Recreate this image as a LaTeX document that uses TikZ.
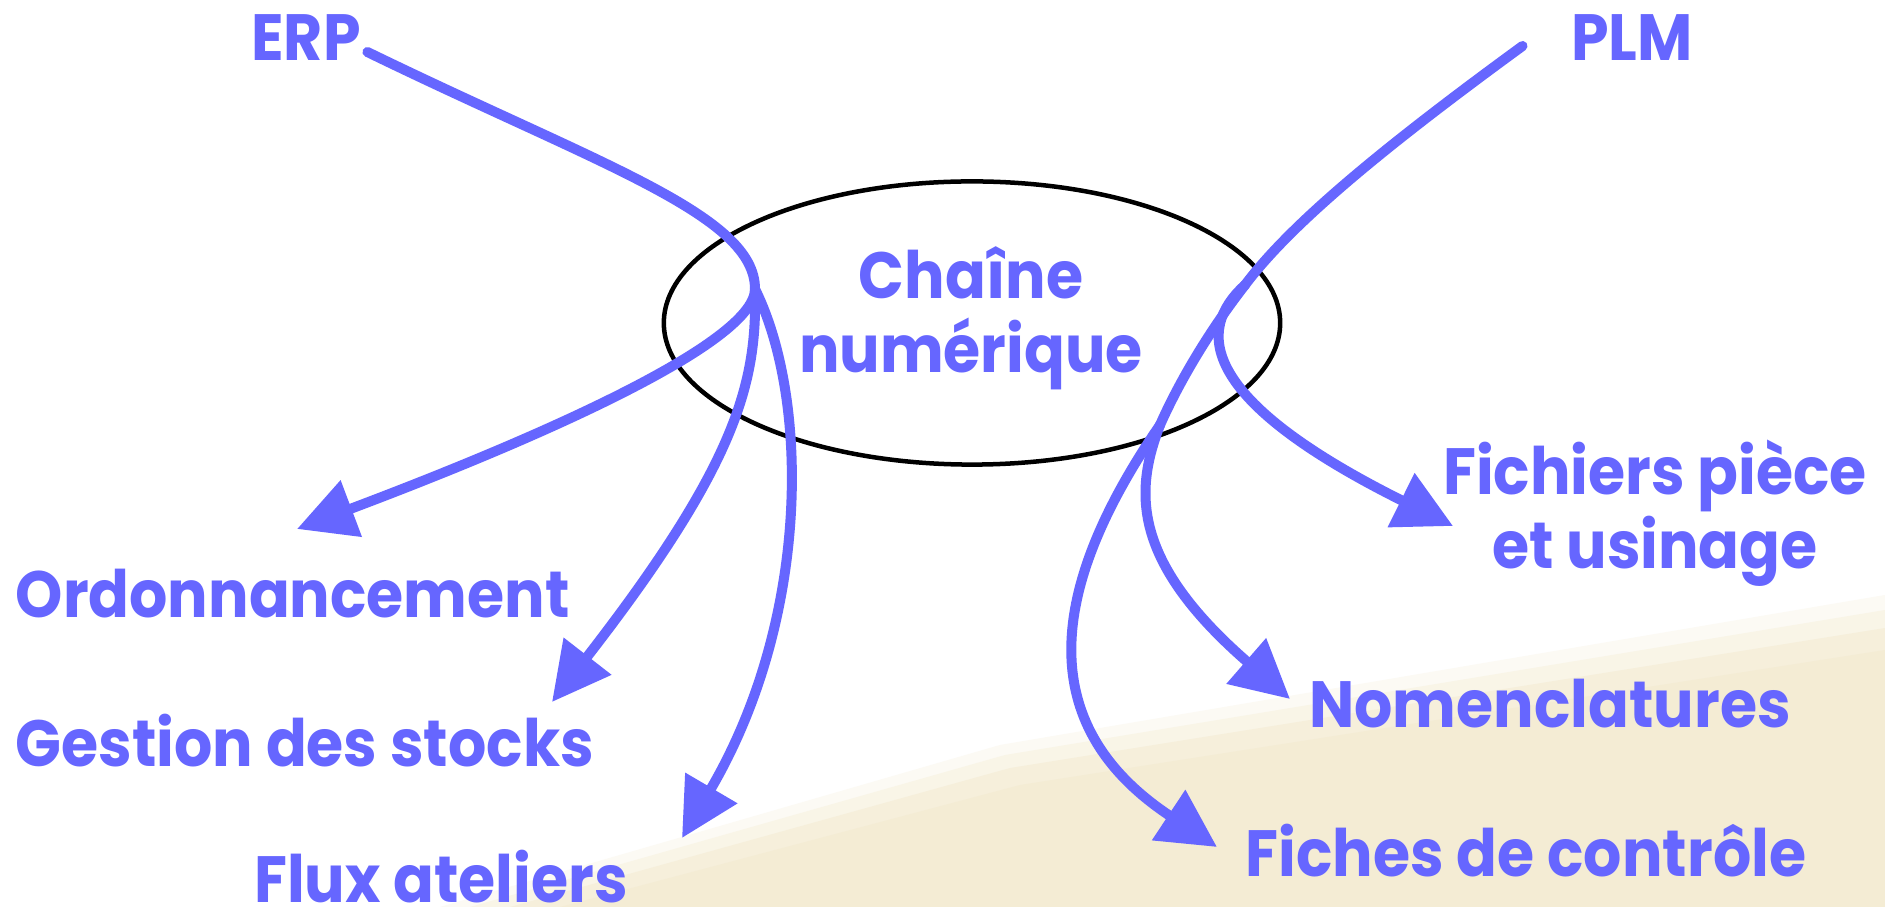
\documentclass[tikz,border=0pt]{standalone}
\usepackage{fontspec}
\newfontfamily\lblfont{Poppins}[FakeStretch=0.92]
\usetikzlibrary{shapes.geometric,arrows.meta,positioning}
\definecolor{flowblue}{RGB}{102,102,255}
\definecolor{bgbeige}{RGB}{244,236,212}
\tikzset{
  lbl/.style = {text=flowblue, font=\lblfont\bfseries\fontsize{18.6}{21.3}\selectfont, inner sep=0pt, anchor=base},
  flow/.style = {draw=flowblue, line width=0.1cm, line cap=round},
  flowarr/.style = {flow, -{Triangle[length=0.58cm,width=0.58cm]}},
  chainenode/.style = {ellipse, draw=black, line width=0.045cm, minimum width=6.16cm, minimum height=2.83cm, inner sep=0pt}
}
\begin{document}
\begin{tikzpicture}[x=0.01cm,y=-0.01cm]
	% fond
	\useasboundingbox (0,0) rectangle (1885,907);
	\fill[white] (0,0) rectangle (1885,907);
	\fill[bgbeige!25] (440,907) -- (1000,745) -- (1885,595) -- (1885,907) -- cycle;
	\fill[bgbeige!55] (470,907) -- (1005,755) -- (1885,610) -- (1885,907) -- cycle;
	\fill[bgbeige!85] (510,907) -- (1010,768) -- (1885,628) -- (1885,907) -- cycle;
	\fill[bgbeige] (560,907) -- (1020,785) -- (1885,650) -- (1885,907) -- cycle;
	% noeuds
	\node[chainenode] (chaine) at (972,323) {};
	\node[lbl, align=center] (chainetxt) at (971,373) {Chaîne\\numérique};
	\node[lbl] (erp) at (306,61) {ERP};
	\node[lbl] (plm) at (1632,61) {PLM};
	\node[lbl, anchor=base west] (ordo) at (15,618) {Ordonnancement};
	\node[lbl, anchor=base west] (stocks) at (15,766) {Gestion des stocks};
	\node[lbl] (flux) at (441,902) {Flux ateliers};
	\node[lbl, align=center] (fichiers) at (1655,569) {Fichiers pièce\\et usinage};
	\node[lbl] (nomen) at (1550,728) {Nomenclatures};
	\node[lbl] (fiches) at (1526,876) {Fiches de contrôle};
	% jonctions et pointes
	\coordinate (erpjoin) at (755,289);
	\coordinate (plmjoin) at (1245,285);
	\coordinate (nomjoin) at (1160,425);
	\coordinate (ordotip) at (297,529);
	\coordinate (stockstip) at (552,702);
	\coordinate (fluxtip) at (682,838);
	\coordinate (fichierstip) at (1453,526);
	\coordinate (nomentip) at (1290,699);
	\coordinate (fichestip) at (1217,847);
	% ERP
	\draw[flow] ([xshift=.06cm,yshift=.09cm]erp.base east) .. controls (600,165) and (755,215) .. (erpjoin);
	\draw[flowarr] (erpjoin) .. controls (755,340) and (560,430) .. (ordotip);
	\draw[flowarr] (erpjoin) .. controls (757,380) and (740,460) .. (stockstip);
	\draw[flowarr] (erpjoin) .. controls (810,400) and (810,620) .. (fluxtip);
	% PLM
	\draw[flow] ([xshift=-.48cm,yshift=.15cm]plm.base west) .. controls (1380,150) and (1290,225) .. (plmjoin);
	\draw[flowarr] (plmjoin) .. controls (1195,330) and (1200,400) .. (fichierstip);
	\draw[flow] (plmjoin) .. controls (1210,330) and (1180,380) .. (nomjoin);
	\draw[flowarr] (nomjoin) .. controls (1135,490) and (1130,560) .. (nomentip);
	\draw[flowarr] (nomjoin) .. controls (1040,600) and (1040,730) .. (fichestip);
\end{tikzpicture}
\end{document}
